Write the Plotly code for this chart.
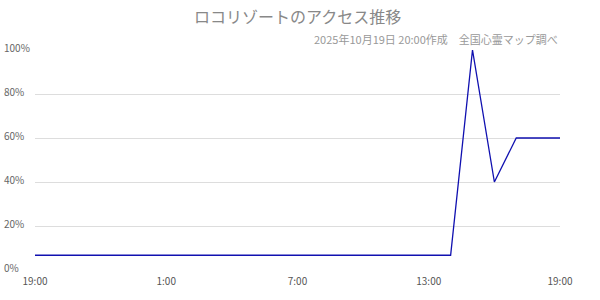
import plotly.graph_objects as go
import pandas as pd

title_text = "ロコリゾートのアクセス推移"
note_text = "2025年10月19日 20:00作成　全国心霊マップ調べ"
times = pd.date_range("2025-10-18 19:00", "2025-10-19 19:00", freq="h")
values = [6.7] * 20 + [100, 40, 60, 60, 60]
y_ticks = [0, 20, 40, 60, 80, 100]
y_labels = ["0%", "20%", "40%", "60%", "80%", "100%"]
x_ticks = pd.to_datetime(["2025-10-18 19:00", "2025-10-19 01:00", "2025-10-19 07:00",
                          "2025-10-19 13:00", "2025-10-19 19:00"])
x_labels = ["19:00", "1:00", "7:00", "13:00", "19:00"]

font = "Noto Sans CJK JP"
fig = go.Figure()
fig.add_trace(go.Scatter(x=times, y=values, mode="lines",
                         line=dict(color="#1010b0", width=1.3), hoverinfo="skip"))

annotations = [
    dict(text=title_text, x=0.5, xref="paper", y=1, yref="paper", yanchor="bottom",
         yshift=20, showarrow=False, font=dict(family=font, size=16, color="#888888")),
    dict(text=note_text, x=1, xref="paper", xanchor="right", y=1, yref="paper",
         yanchor="bottom", yshift=1, showarrow=False,
         font=dict(family=font, size=11, color="#999999")),
]
for v, lab in zip(y_ticks, y_labels):
    annotations.append(dict(text=lab, x=0, xref="paper", xanchor="left", xshift=-33,
                            y=v, yref="y", yshift=3, showarrow=False,
                            font=dict(family=font, size=10, color="#666666")))

fig.update_layout(
    width=600, height=300,
    margin=dict(l=35, r=40, t=50, b=30),
    paper_bgcolor="white", plot_bgcolor="white",
    showlegend=False,
    annotations=annotations,
    xaxis=dict(range=[times[0], times[-1]], tickvals=x_ticks, ticktext=x_labels,
               showgrid=False, zeroline=False, showline=False, ticks="",
               ticklabelstandoff=4,
               tickfont=dict(family=font, size=10, color="#555555")),
    yaxis=dict(range=[0, 100], tickvals=y_ticks, showticklabels=False,
               showgrid=True, gridcolor="#dddddd", gridwidth=1, zeroline=False,
               showline=False, ticks=""),
)
fig.write_html("out.html")
